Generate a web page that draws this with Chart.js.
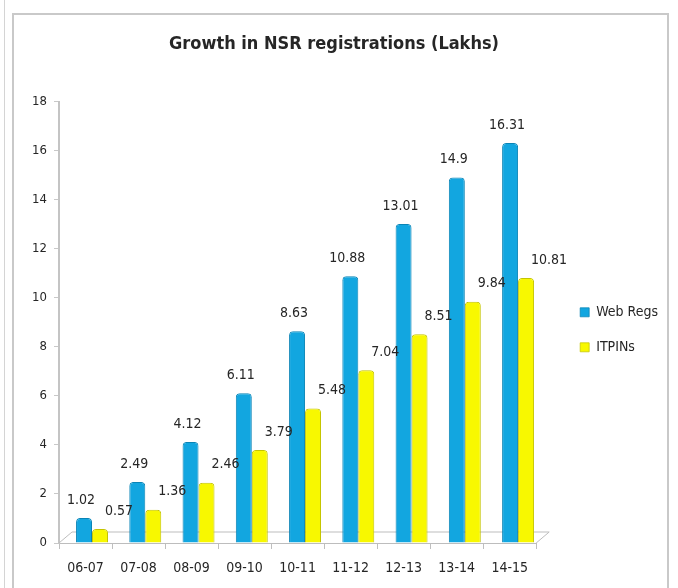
<!DOCTYPE html>
<html>
<head>
<meta charset="utf-8">
<title>Growth in NSR registrations</title>
<script src="https://cdn.jsdelivr.net/npm/chart.js@4"></script>
<style>
  html, body { margin: 0; padding: 0; background: #fff; }
  #wrap { position: relative; width: 678px; height: 588px; }
  #frame { position: absolute; left: 12px; top: 13px; width: 657px; height: 600px; border: 2px solid #c9c9c9; box-sizing: border-box; }
  #sheetLine { position: absolute; left: 4px; top: 0; width: 1px; height: 588px; background: #d4d4d4; }
  #box { position: absolute; left: 0; top: 0; width: 678px; height: 588px; }
</style>
</head>
<body>
<div id="wrap">
  <div id="sheetLine"></div>
  <div id="frame"></div>
  <div id="box"><canvas id="nsrCanvas"></canvas></div>
</div>
<script>
// ---- data ----
const YEARS    = ['06-07','07-08','08-09','09-10','10-11','11-12','12-13','13-14','14-15'];
const WEB_REGS = [1.02, 2.49, 4.12, 6.11, 8.63, 10.88, 13.01, 14.9, 16.31];
const ITPINS   = [0.57, 1.36, 2.46, 3.79, 5.48, 7.04, 8.51, 9.84, 10.81];
const Y_TICKS  = [0, 2, 4, 6, 8, 10, 12, 14, 16, 18];

const FONT = '"Liberation Sans Narrow", "DejaVu Sans Condensed", "Liberation Sans", sans-serif';
const TXT  = '#262626';

// bars sit on a hidden index axis, nudged to the right like the 3d columns
const toPoints = arr => arr.map((v, i) => ({ x: i, y: v }));

// 3d-ish floor under the bars
const floorPlugin = {
  id: 'floor',
  beforeDatasetsDraw(chart) {
    const { left, right, bottom } = chart.chartArea;
    const ctx = chart.ctx;
    ctx.save();
    ctx.strokeStyle = '#bdbdbd';
    ctx.lineWidth = 1;
    ctx.beginPath();
    ctx.moveTo(left, bottom);
    ctx.lineTo(left + 13, bottom - 11);
    ctx.lineTo(right + 13, bottom - 11);
    ctx.lineTo(right, bottom);
    ctx.stroke();
    ctx.restore();
  }
};

// value labels above the bars
const valueLabels = {
  id: 'valueLabels',
  afterDatasetsDraw(chart) {
    const ctx = chart.ctx;
    ctx.save();
    ctx.font = '14px ' + FONT;
    ctx.fillStyle = TXT;
    ctx.textBaseline = 'middle';
    chart.data.datasets.forEach((ds, di) => {
      const meta = chart.getDatasetMeta(di);
      meta.data.forEach((bar, i) => {
        const v = ds.data[i].y;
        if (di === 0) {
          ctx.textAlign = 'center';
          ctx.fillText(String(v), bar.x - 3, bar.y - 18);
        } else {
          ctx.textAlign = 'left';
          ctx.fillText(String(v), bar.x + bar.width / 2 - 3, bar.y - 18);
        }
      });
    });
    ctx.restore();
  }
};

const ctx = document.getElementById('nsrCanvas').getContext('2d');
new Chart(ctx, {
  type: 'bar',
  data: {
    labels: YEARS,
    datasets: [
      {
        label: 'Web Regs',
        data: toPoints(WEB_REGS),
        xAxisID: 'xb',
        backgroundColor: '#12A6E0',
        borderColor: '#0A84B6',
        borderWidth: { left: 1, right: 1, top: 1, bottom: 0 },
        borderRadius: { topLeft: 4, topRight: 4 },
        borderSkipped: 'bottom'
      },
      {
        label: 'ITPINs',
        data: toPoints(ITPINS),
        xAxisID: 'xb',
        backgroundColor: '#F8F800',
        borderColor: '#C4C400',
        borderWidth: { left: 1, right: 1, top: 1, bottom: 0 },
        borderRadius: { topLeft: 4, topRight: 4 },
        borderSkipped: 'bottom'
      }
    ]
  },
  options: {
    responsive: true,
    maintainAspectRatio: false,
    animation: false,
    layout: { padding: { left: 0, right: 10, top: 0, bottom: 0 } },
    datasets: { bar: { categoryPercentage: 0.6, barPercentage: 1.0 } },
    plugins: {
      title: {
        display: true,
        text: 'Growth in NSR registrations (Lakhs)',
        color: TXT,
        font: { family: FONT, size: 18, weight: 'bold', lineHeight: 1.2 },
        padding: { top: 34, bottom: 46 }
      },
      legend: {
        position: 'right',
        fullSize: false,
        maxWidth: 110,
        title: { display: true, text: '', font: { size: 10, lineHeight: 1 }, padding: { top: 5, bottom: 0 } },
        labels: {
          boxWidth: 9,
          boxHeight: 9,
          padding: 21,
          color: TXT,
          font: { family: FONT, size: 14 }
        }
      },
      tooltip: { enabled: false }
    },
    scales: {
      x: {
        type: 'category',
        grid: { display: true, drawOnChartArea: false, tickLength: 6, color: '#bfbfbf' },
        border: { color: '#bdbdbd', width: 1 },
        ticks: { color: TXT, padding: 11, font: { family: FONT, size: 14 } },
        afterFit(s) { s.height = 45; }
      },
      xb: {
        type: 'linear',
        display: false,
        offset: false,
        min: -0.62,
        max: 8.34
      },
      y: {
        min: 0,
        max: 18,
        afterBuildTicks(s) { s.ticks = Y_TICKS.map(v => ({ value: v })); },
        grid: { display: true, drawOnChartArea: false, tickLength: 5, color: '#c8c8c8' },
        border: { color: '#c4c4c4', width: 2 },
        ticks: { color: TXT, padding: 7, font: { family: FONT, size: 13 } },
        afterFit(s) { s.width = 59; }
      },
      // empty spacer between plot and legend
      gap: {
        type: 'linear',
        position: 'right',
        display: true,
        grid: { display: false },
        border: { display: false },
        ticks: { display: false },
        afterFit(s) { s.width = 23; }
      }
    }
  },
  plugins: [floorPlugin, valueLabels]
});
</script>
</body>
</html>
